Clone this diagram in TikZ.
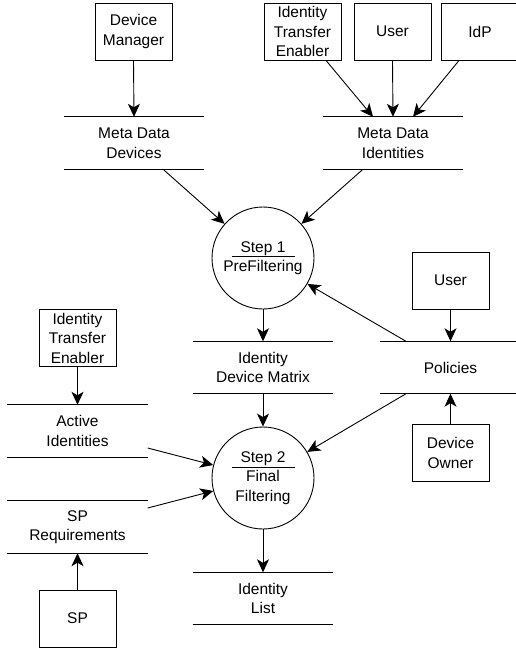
\documentclass[tikz,border=0pt]{standalone}
\usepackage{fontspec}
\setmainfont{Liberation Sans}
\usetikzlibrary{arrows.meta}
\begin{document}
\begin{tikzpicture}[x=1pt,y=-1pt,
  every node/.style={font=\fontsize{15.5pt}{19.5pt}\selectfont, align=center, inner sep=0pt},
  entity/.style={draw, line width=0.9pt, minimum width=77pt, minimum height=57pt},
  store/.style={minimum width=140pt, minimum height=52pt},
  proc/.style={draw, circle, line width=0.9pt, minimum size=102pt},
  storeline/.style={line width=0.9pt},
  flow/.style={line width=0.9pt, -{Stealth[length=13pt,width=12pt,inset=3.5pt]}}]
\useasboundingbox (0,0) rectangle (516,648);
% entities
\node[entity] (dm) at (133.5,31.5) {Device\\Manager};
\node[entity] (ite1) at (302.5,31.5) {Identity\\Transfer\\Enabler};
\node[entity] (user1) at (392.5,31.5) {User};
\node[entity] (idp) at (480,31.5) {IdP};
\node[entity] (user2) at (450.5,280.5) {User};
\node[entity] (ite2) at (77.5,338) {Identity\\Transfer\\Enabler};
\node[entity] (do) at (450.5,453) {Device\\Owner};
\node[entity] (sp) at (77.5,618.5) {SP};
% stores
\node[store] (mdd) at (134,143) {Meta Data\\Devices};
\node[store] (mdi) at (393,143) {Meta Data\\Identities};
\node[store] (idm) at (263,367.5) {Identity\\Device Matrix};
\node[store] (pol) at (450.5,367.5) {Policies};
\node[store] (ai) at (77.5,431) {Active\\Identities};
\node[store] (spr) at (77.5,527) {SP\\Requirements};
\node[store] (il) at (263,598.5) {Identity\\List};
\foreach \s in {mdd,mdi,idm,pol,ai,spr,il}{
  \draw[storeline] (\s.north west) -- (\s.north east);
  \draw[storeline] (\s.south west) -- (\s.south east);
}
% processes
\node[proc] (s1) at (263,258) {\underline{\makebox[63pt]{Step 1}}\\PreFiltering};
\node[proc] (s2) at (263,478) {\underline{\makebox[63pt]{Step 2}}\\Final\\Filtering};
% flows
\draw[flow] (dm.south) -- (mdd.north);
\draw[flow] ([xshift=23.5pt]ite1.south) -- ([xshift=-20pt]mdi.north);
\draw[flow] (user1.south) -- (mdi.north);
\draw[flow] ([xshift=-21pt]idp.south) -- ([xshift=20pt]mdi.north);
\draw[flow] ([xshift=29pt]mdd.south) -- (s1);
\draw[flow] ([xshift=-30pt]mdi.south) -- (s1);
\draw[flow] (s1.south) -- (idm.north);
\draw[flow] ([xshift=-44.5pt]pol.north) -- (s1);
\draw[flow] (user2.south) -- (pol.north);
\draw[flow] (do.north) -- (pol.south);
\draw[flow] (idm.south) -- (s2.north);
\draw[flow] ([xshift=-44.5pt]pol.south) -- (s2);
\draw[flow] (ite2.south) -- (ai.north);
\draw[flow] ([yshift=-17pt]ai.east) -- (s2);
\draw[flow] ([yshift=19pt]spr.east) -- (s2);
\draw[flow] (sp.north) -- (spr.south);
\draw[flow] (s2.south) -- (il.north);
\end{tikzpicture}
\end{document}
